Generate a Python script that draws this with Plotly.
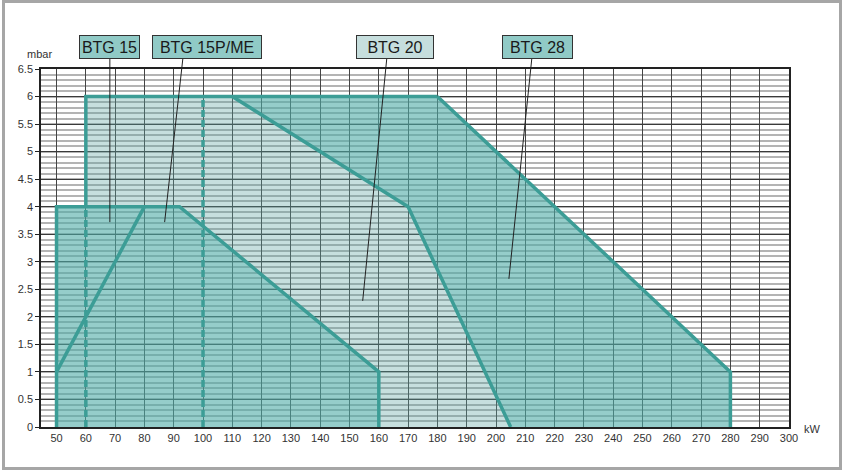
import plotly.graph_objects as go

# ---------------- data (kW, mbar) ----------------
btg15_kw = [50, 80]
btg15_mbar = [1, 4]
btg15pme_kw = [50, 50, 92, 160, 160]
btg15pme_mbar = [0, 4, 4, 1, 0]
btg20_kw = [110, 170, 205]
btg20_mbar = [6, 4, 0]
btg28_kw = [180, 280, 280]
btg28_mbar = [6, 1, 0]
top_kw = [60, 60, 180]
top_mbar = [4, 6, 6]
dashed_kw = [60, 100]
dashed_top = [4, 6]

x_ticks = list(range(50, 301, 10))
y_ticks = [i * 0.5 for i in range(0, 14)]

label_text = ["BTG 15", "BTG 15P/ME", "BTG 20", "BTG 28"]
pointer_kw = [68.2, 86.9, 154.5, 204.4]
pointer_mbar = [3.72, 3.72, 2.29, 2.69]

# ---------------- styling ----------------
LINE = "#3c9d96"
DARK_FILL = "rgba(78,172,166,0.60)"
LIGHT_FILL = "rgba(92,164,161,0.35)"
BOX_DARK = "#90cac6"
BOX_LIGHT = "#c6dedd"
W = 3.5

fig = go.Figure()

# light area (BTG 20 envelope minus the lower dark area)
light_x = top_kw[:2] + btg20_kw + btg15pme_kw[::-1][:3]
light_y = top_mbar[:2] + btg20_mbar + btg15pme_mbar[::-1][:3]
fig.add_trace(go.Scatter(x=light_x, y=light_y, fill="toself", fillcolor=LIGHT_FILL,
                         mode="none", hoverinfo="skip"))
# lower dark area
fig.add_trace(go.Scatter(x=btg15pme_kw, y=btg15pme_mbar, fill="toself", fillcolor=DARK_FILL,
                         mode="none", hoverinfo="skip"))
# right dark area
dark_x = btg28_kw + btg20_kw[::-1]
dark_y = btg28_mbar + btg20_mbar[::-1]
fig.add_trace(go.Scatter(x=dark_x, y=dark_y, fill="toself", fillcolor=DARK_FILL,
                         mode="none", hoverinfo="skip"))

# dashed verticals
for kw, top in zip(dashed_kw, dashed_top):
    fig.add_trace(go.Scatter(x=[kw, kw], y=[0, top], mode="lines",
                             line=dict(color=LINE, width=W, dash="7px,3px")))

# solid outlines
for xs, ys in [(btg15pme_kw, btg15pme_mbar), (btg15_kw, btg15_mbar), (top_kw, top_mbar),
               (btg20_kw, btg20_mbar), (btg28_kw, btg28_mbar)]:
    fig.add_trace(go.Scatter(x=xs, y=ys, mode="lines",
                             line=dict(color=LINE, width=W)))

# ---------------- layout ----------------
ML, MR, MT, MB = 41, 54, 69, 44
PW, PH = 843 - ML - MR, 471 - MT - MB

def px_to_paper_y(py):
    return (471 - MB - py) / PH

def px_to_paper_x(px):
    return (px - ML) / PW

fig.update_layout(
    width=843, height=471,
    margin=dict(l=ML, r=MR, t=MT, b=MB, pad=0),
    paper_bgcolor="white", plot_bgcolor="white",
    showlegend=False,
    font=dict(family="Liberation Sans, Arial, sans-serif", size=11, color="#333333"),
)
fig.update_xaxes(
    range=[44.7, 300], tickvals=x_ticks, ticks="", showgrid=True,
    gridcolor="#444444", gridwidth=1.4, zeroline=False,
    showline=True, linecolor="#222222", linewidth=1.5, mirror=True,
    tickfont=dict(size=11, color="#333333"),
)
fig.update_yaxes(
    range=[0, 6.5], tickvals=y_ticks, ticks="outside", ticklen=4, tickcolor="#222222",
    showgrid=True, gridcolor="#3a3a3a", gridwidth=1.4, zeroline=False,
    showline=True, linecolor="#222222", linewidth=1.5, mirror=True,
    minor=dict(dtick=0.1, showgrid=True, gridcolor="#b4b4b4", gridwidth=1.6, ticks=""),
    tickfont=dict(size=11, color="#333333"),
)

# axis unit labels
fig.add_annotation(text="mbar", xref="paper", yref="paper", x=px_to_paper_x(39), y=px_to_paper_y(54),
                   xanchor="center", yanchor="middle",
                   showarrow=False, font=dict(size=11, color="#333333"))
fig.add_annotation(text="kW", xref="paper", yref="paper", x=px_to_paper_x(813), y=px_to_paper_y(429),
                   xanchor="center", yanchor="middle",
                   showarrow=False, font=dict(size=11, color="#333333"))

# label boxes with pointer lines
box_center_kw = [68.0, 101.4, 165.4, 214.0]
box_w = [61, 110, 78, 71]
box_fill = [BOX_DARK, BOX_DARK, BOX_LIGHT, BOX_DARK]
tail_kw = [68.2, 93.1, 162.7, 212.2]
box_cy = px_to_paper_y(47)
box_bottom = px_to_paper_y(59)
for t, cx, w, fc, tk, pk, pm in zip(label_text, box_center_kw, box_w, box_fill, tail_kw,
                                    pointer_kw, pointer_mbar):
    fig.add_shape(type="line", xref="x", yref="paper", x0=tk, y0=box_bottom, x1=pk, y1=pm / 6.5,
                  line=dict(color="#222222", width=1))
    fig.add_annotation(text=t, xref="x", yref="paper", x=cx, y=box_cy, showarrow=False,
                       width=w - 2, height=22, borderpad=0, borderwidth=1, bordercolor="#333333",
                       bgcolor=fc, xanchor="center", yanchor="middle",
                       font=dict(family="Liberation Sans, Arial", size=16, color="#1a1a1a"))

# outer frame
fig.add_shape(type="rect", xref="paper", yref="paper",
              x0=px_to_paper_x(3.5), x1=px_to_paper_x(840.5),
              y0=px_to_paper_y(468.5), y1=px_to_paper_y(1.5),
              line=dict(color="#a6a6a6", width=3), layer="above")

fig.write_html("out.html", config={"displayModeBar": False},
               post_script="document.body.style.margin='0';document.body.style.padding='0';")
